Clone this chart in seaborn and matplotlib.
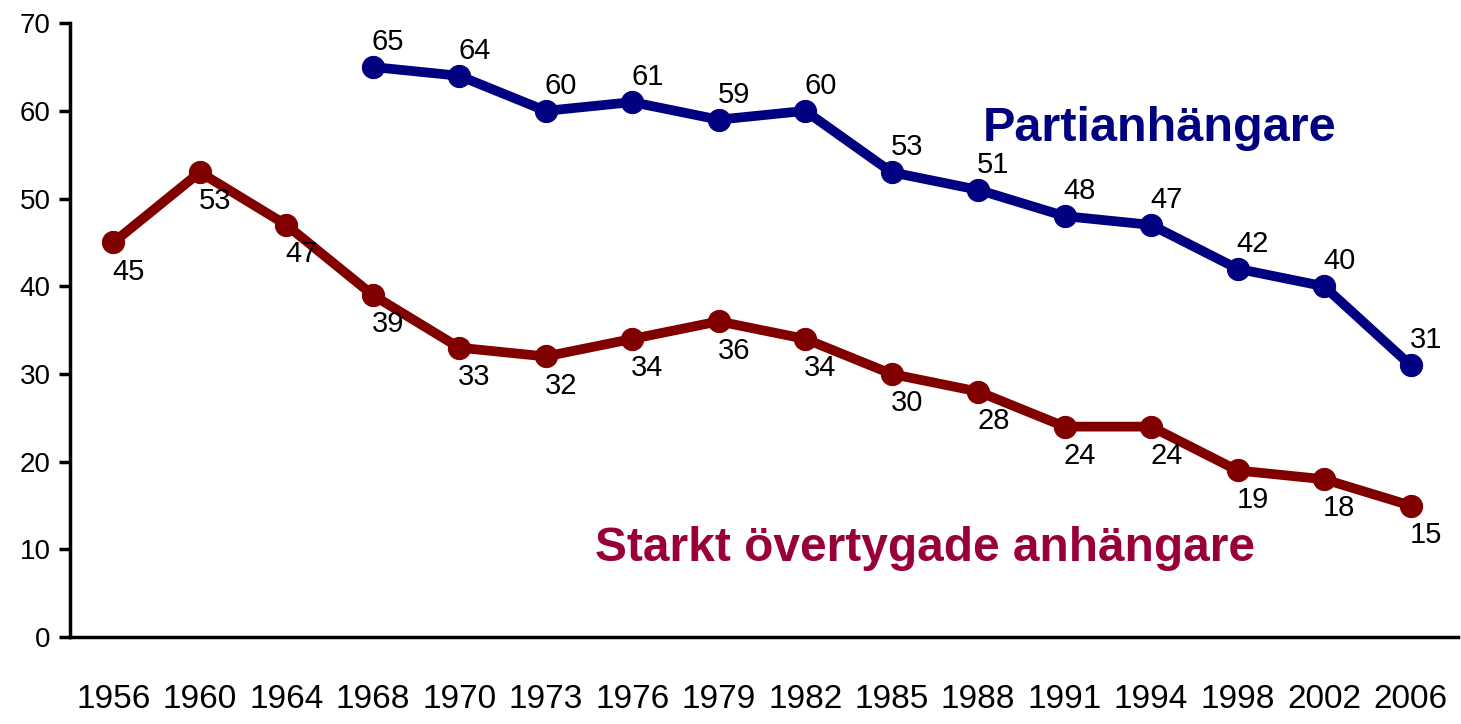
import numpy as np
import pandas as pd
import matplotlib
matplotlib.use("Agg")
import matplotlib.pyplot as plt
import seaborn as sns

sns.set_style("white")
plt.rcParams['font.family'] = ['Liberation Sans', 'DejaVu Sans']

# data
years = ["1956", "1960", "1964", "1968", "1970", "1973", "1976", "1979",
         "1982", "1985", "1988", "1991", "1994", "1998", "2002", "2006"]
partianhangare = [np.nan, np.nan, np.nan, 65, 64, 60, 61, 59, 60, 53, 51, 48, 47, 42, 40, 31]
starkt = [45, 53, 47, 39, 33, 32, 34, 36, 34, 30, 28, 24, 24, 19, 18, 15]

blue = "#000080"
red = "#800000"

df = pd.DataFrame({"x": np.arange(len(years)), "blue": partianhangare, "red": starkt})

fig = plt.figure(figsize=(14.61, 7.24), dpi=100)
ax = fig.add_axes([0.048, 0.12, 0.950, 0.848])

sns.lineplot(data=df, x="x", y="red", ax=ax, color=red, linewidth=7,
             marker="o", markersize=16, markeredgecolor=red)
sns.lineplot(data=df.dropna(), x="x", y="blue", ax=ax, color=blue, linewidth=7,
             marker="o", markersize=16, markeredgecolor=blue)

# value labels
for i, v in enumerate(partianhangare):
    if not np.isnan(v):
        ax.annotate(f"{int(v)}", (i, v), xytext=(11, 18), textcoords="offset points",
                    ha="center", va="center", fontsize=21, color="black")
for i, v in enumerate(starkt):
    ax.annotate(f"{v}", (i, v), xytext=(11, -21), textcoords="offset points",
                ha="center", va="center", fontsize=21, color="black")

# series names
ax.text(12.1, 58, "Partianhängare", ha="center", va="center",
        fontsize=35, fontweight="bold", color=blue)
ax.text(9.39, 10.1, "Starkt övertygade anhängare", ha="center", va="center",
        fontsize=34.5, fontweight="bold", color="#99003a")

ax.set_xlim(-0.5, 15.55)
ax.set_ylim(0, 70)
ax.set_xticks(np.arange(len(years)))
ax.set_xticklabels(years, fontsize=24)
ax.set_yticks(np.arange(0, 71, 10))
ax.tick_params(axis="y", labelsize=20, length=8, width=2.5, direction="out",
               left=True, pad=6, labelcolor="black", color="black")
ax.tick_params(axis="x", length=0, pad=34, labelcolor="black")
ax.set_xlabel("")
ax.set_ylabel("")

for s in ["top", "right"]:
    ax.spines[s].set_visible(False)
for s in ["left", "bottom"]:
    ax.spines[s].set_linewidth(2.5)
    ax.spines[s].set_color("black")

fig.savefig("out.png", dpi=100)
